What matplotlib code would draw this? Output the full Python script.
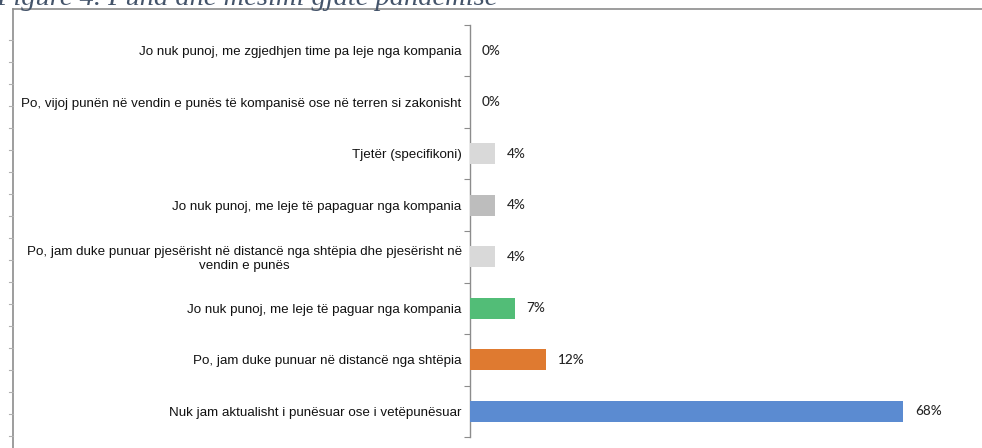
import numpy as np
import matplotlib.pyplot as plt
from matplotlib.lines import Line2D

# ── Data (top to bottom as shown) ─────────────────────────────────────────
categories = [
    "Jo nuk punoj, me zgjedhjen time pa leje nga kompania",
    "Po, vijoj punën në vendin e punës të kompanisë ose në terren si zakonisht",
    "Tjetër (specifikoni)",
    "Jo nuk punoj, me leje të papaguar nga kompania",
    "Po, jam duke punuar pjesërisht në distancë nga shtëpia dhe pjesërisht në\nvendin e punës",
    "Jo nuk punoj, me leje të paguar nga kompania",
    "Po, jam duke punuar në distancë nga shtëpia",
    "Nuk jam aktualisht i punësuar ose i vetëpunësuar",
]
values = [0, 0, 4, 4, 4, 7, 12, 68]
colors = ["#D9D9D9", "#D9D9D9", "#D9D9D9", "#BDBDBD", "#D9D9D9",
          "#52BD77", "#DF7A30", "#5B8BD1"]

title_text = "Figure 4. Puna dhe mësimi gjatë pandemisë"

# ── Figure ────────────────────────────────────────────────────────────────
W, H = 982, 448
fig = plt.figure(figsize=(W / 100, H / 100), dpi=100)

# cut-off caption at the very top of the page (as in the source screenshot)
fig.text(-4 / W, 1 - 5 / H, title_text, fontsize=20.5, style="italic",
         family="Liberation Serif", color="#44546A", va="baseline", ha="left")

# outer frame of the embedded chart
fx, fy = 13 / W, 1 - 9 / H
fig.add_artist(Line2D([fx, 1.0], [fy, fy], color="#8C8C8C", lw=1.2,
                      transform=fig.transFigure))
fig.add_artist(Line2D([fx, fx], [0, fy], color="#8C8C8C", lw=1.2,
                      transform=fig.transFigure))
# small ruler marks left of the frame
for yy in np.arange(40, H, 22):
    fig.add_artist(Line2D([fx - 4 / W, fx], [1 - yy / H, 1 - yy / H],
                          color="#B0B0B0", lw=0.8, transform=fig.transFigure))

# ── Bars ──────────────────────────────────────────────────────────────────
x0, x1 = 470 / W, 962 / W
y_top, y_bot = 1 - 25 / H, 1 - 437 / H
ax = fig.add_axes([x0, y_bot, x1 - x0, y_top - y_bot])

px_per_pct = (903 - 470) / 68
pos = np.arange(len(categories))
ax.barh(pos, values, height=0.4, color=colors, zorder=3)

ax.set_ylim(len(categories) - 0.5, -0.5)
ax.set_xlim(0, (962 - 470) / px_per_pct)

for p, v in zip(pos, values):
    ax.annotate(f"{v}%", xy=(v, p), xytext=(8.5, 0), textcoords="offset points",
                va="center", ha="left", fontsize=9.8, family="Lato",
                fontweight="medium", color="#262626")

ax.set_yticks(pos)
ax.set_yticklabels(categories, fontsize=9.6, family="Liberation Sans",
                   color="#111111", multialignment="center")
ax.tick_params(axis="y", which="major", length=0, pad=6)
ax.set_yticks(np.arange(-0.5, len(categories)), minor=True)
ax.tick_params(axis="y", which="minor", length=4, color="#8C8C8C", width=0.8)
ax.set_xticks([])

for side in ["top", "right", "bottom"]:
    ax.spines[side].set_visible(False)
ax.spines["left"].set_color("#8C8C8C")
ax.spines["left"].set_linewidth(1.0)

fig.savefig("out.png", dpi=100, facecolor="white")
